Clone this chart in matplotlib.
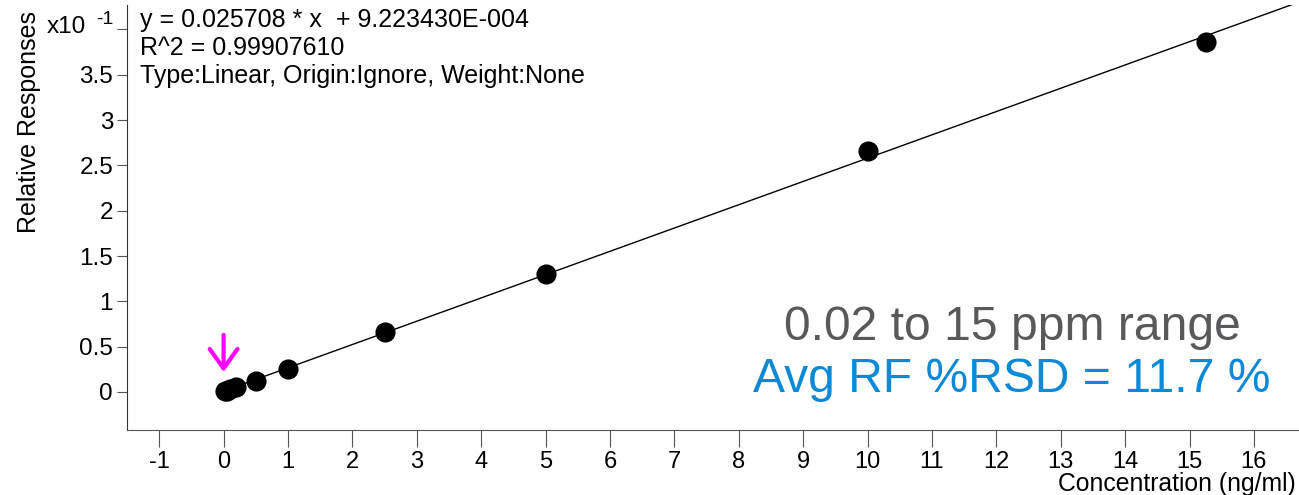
import numpy as np
import matplotlib.pyplot as plt

plt.rcParams['font.family'] = ['Liberation Sans', 'DejaVu Sans']
plt.rcParams['axes.unicode_minus'] = False

# calibration points (x10^-1 response units)
conc = [0.02, 0.05, 0.1, 0.2, 0.5, 1.0, 2.5, 5.0, 10.0, 15.25]
resp = [0.005, 0.013, 0.027, 0.05, 0.12, 0.25, 0.66, 1.30, 2.66, 3.86]

slope = 0.25708
intercept = 0.0092
fit_x = [0.02, 16.7]

x_ticks = list(range(-1, 17))
y_ticks = [0, 0.5, 1, 1.5, 2, 2.5, 3, 3.5, 4]
y_labels = ['0', '0.5', '1', '1.5', '2', '2.5', '3', '3.5', '']

fig = plt.figure(figsize=(12.99, 4.95), dpi=100)
ax = fig.add_axes([127 / 1299, 65 / 495, 1 - 127 / 1299, 425 / 495])

fx = np.array(fit_x)
ax.plot(fx, slope * fx + intercept, color='black', lw=1)
ax.plot(conc, resp, 'o', color='black', markersize=13.5)

ax.set_xlim(-1.5, 16.7)
ax.set_ylim(-0.42, 4.27)
ax.set_xticks(x_ticks)
ax.set_yticks(y_ticks)
ax.set_yticklabels(y_labels)

for s in ['top', 'right']:
    ax.spines[s].set_visible(False)
ax.spines['left'].set_color('#333333')
ax.spines['bottom'].set_color('#555555')
ax.tick_params(axis='x', length=12, color='#555555', labelsize=17, pad=3)
ax.tick_params(axis='y', length=7, color='#555555', labelsize=17.5, pad=3)

# magenta marker arrow pointing at the lowest standard
ax.annotate('', xy=(0.0, 0.22), xytext=(0.0, 0.63),
            arrowprops=dict(arrowstyle='->,head_length=0.7,head_width=0.5',
                            mutation_scale=20, color='#ff00ff', lw=3,
                            shrinkA=0, shrinkB=0))

fig.text(140 / 1299, 1 - 20 / 495, 'y = 0.025708 * x  + 9.223430E-004',
         fontsize=18, va='center')
fig.text(140 / 1299, 1 - 48 / 495, 'R^2 = 0.99907610', fontsize=18, va='center')
fig.text(140 / 1299, 1 - 76 / 495, 'Type:Linear, Origin:Ignore, Weight:None',
         fontsize=18, va='center')

fig.text(47 / 1299, 1 - 27 / 495, 'x10', fontsize=17.5, va='center')
fig.text(96 / 1299, 1 - 20 / 495, '-1', fontsize=14, va='center')

fig.text(29 / 1299, 1 - 122 / 495, 'Relative Responses', fontsize=18,
         rotation=90, ha='center', va='center')
fig.text(1296 / 1299, 1 - 484 / 495, 'Concentration (ng/ml)', fontsize=17.8,
         ha='right', va='center')

fig.text(1012 / 1299, 1 - 327 / 495, '0.02 to 15 ppm range', fontsize=34.6,
         color='#58595b', ha='center', va='center')
fig.text(1012 / 1299, 1 - 380 / 495, 'Avg RF %RSD = 11.7 %', fontsize=34.6,
         color='#0a8ad6', ha='center', va='center')

fig.savefig('out.png', dpi=100)
